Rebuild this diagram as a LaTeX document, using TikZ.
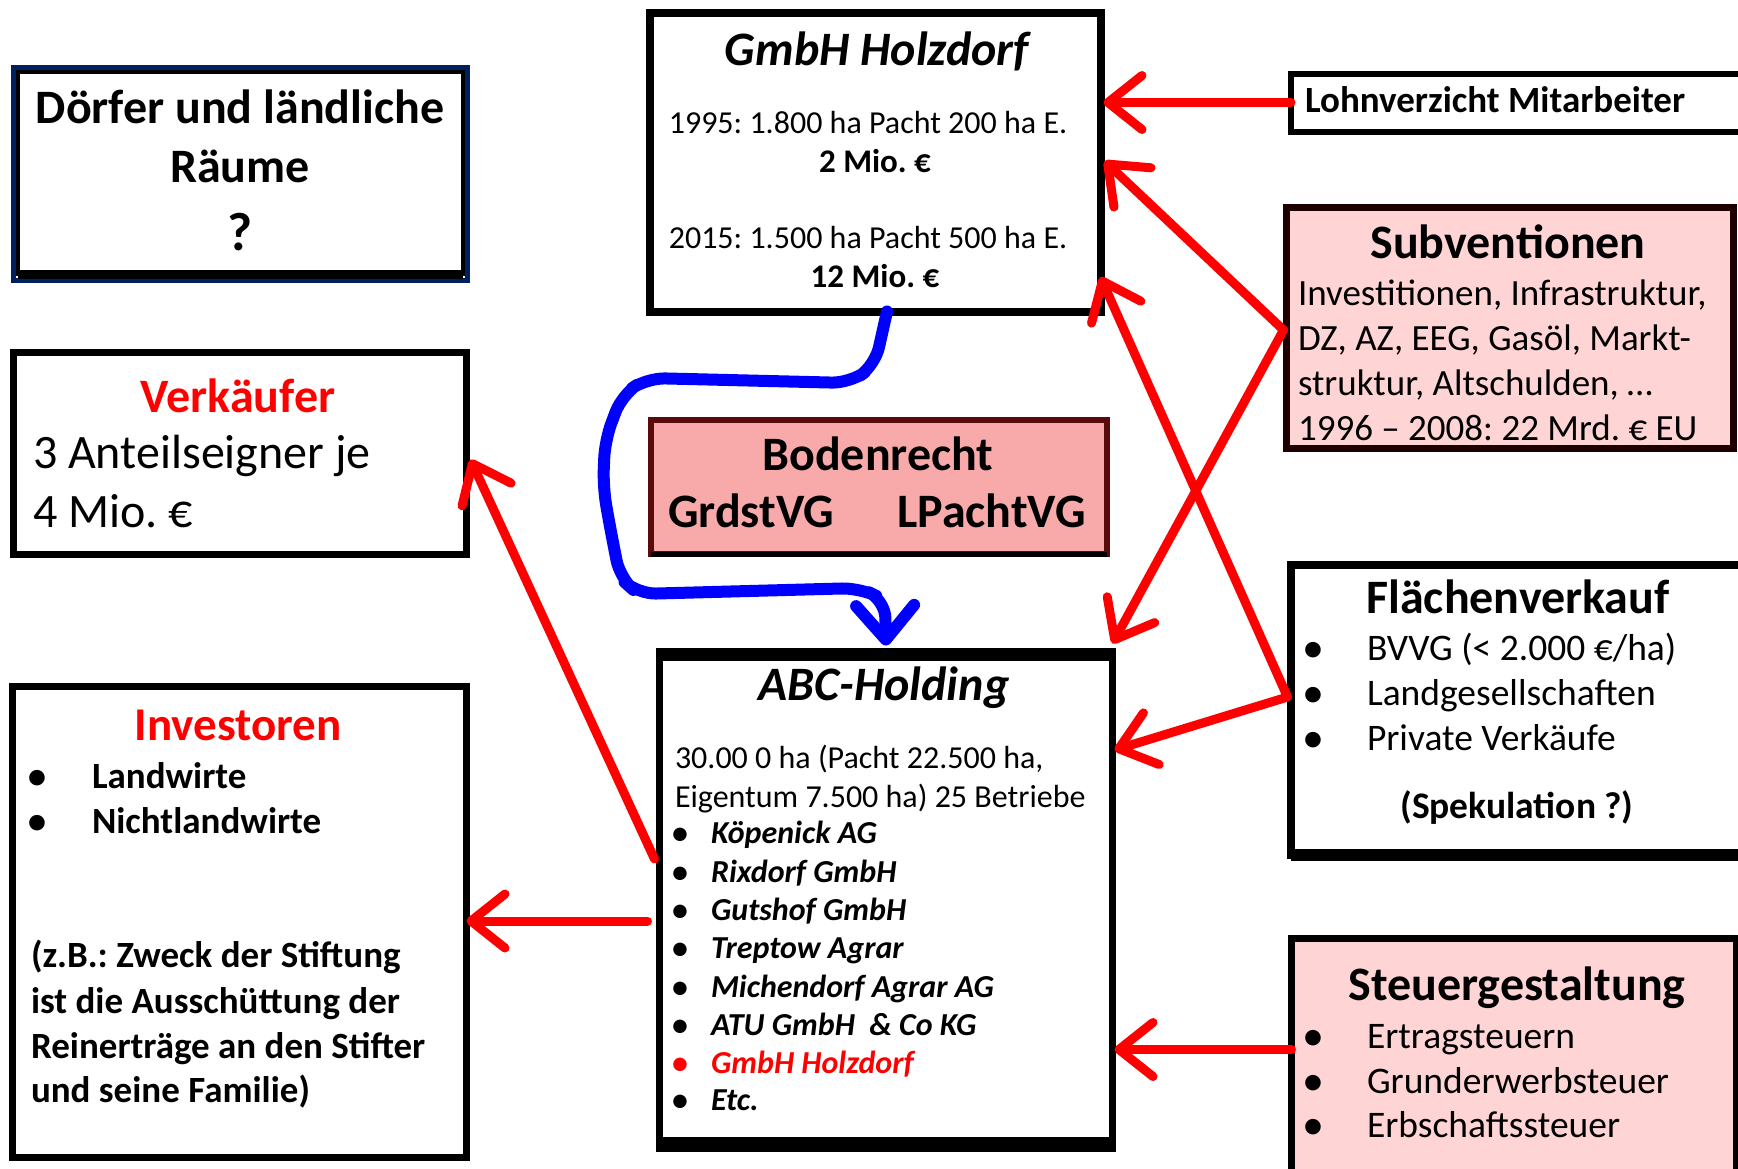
\documentclass[tikz,border=0pt]{standalone}
\usepackage{fontspec}
\setmainfont{Carlito}
\usetikzlibrary{arrows.meta}
\definecolor{navyb}{RGB}{0,32,96}
\definecolor{pinkl}{RGB}{255,212,212}
\definecolor{pinkd}{RGB}{248,170,170}
\definecolor{maroonb}{RGB}{90,10,10}
\definecolor{dredb}{RGB}{30,0,0}
\definecolor{myred}{RGB}{255,0,0}
\definecolor{myblue}{RGB}{0,0,255}
\newcommand\mysz[1]{\fontsize{#1pt}{#1pt}\selectfont}
\frenchspacing
\begin{document}
\begin{tikzpicture}[x=1pt,y=-1pt,
  box/.style={draw, line width=7pt, rectangle, inner sep=0pt, outer sep=0pt, anchor=north west},
  tx/.style={inner sep=0pt, outer sep=0pt},
  bul/.style={inner sep=0pt, outer sep=0pt, anchor=base, font=\mysz{44}},
  redarrow/.style={draw=myred, line width=9pt, line cap=round, line join=round, -{Straight Barb[length=34pt,width=54pt,round]}},
  bluearrow/.style={draw=myblue, line width=12pt, line cap=round, line join=round, rounded corners=18pt, -{Straight Barb[length=34pt,width=58pt,round]}}
]
\useasboundingbox (0,0) rectangle (1738,1168);
\fill[white] (0,0) rectangle (1738,1168);

% boxes
\node[box, line width=4pt, minimum width=445pt, minimum height=202pt] (dorf) at (18,72) {};
\draw[navyb, line width=5pt] ([shift={(-4.5pt,4.5pt)}]dorf.north west) rectangle ([shift={(4.5pt,-6pt)}]dorf.south east);
\draw[line width=9pt] (dorf.south west) -- (dorf.south east);

\node[box, minimum width=453pt, minimum height=202pt] (verk) at (13.5,352.5) {};
\node[box, minimum width=454pt, minimum height=471pt] (inv) at (12.5,686.5) {};
\node[box, line width=8pt, minimum width=451pt, minimum height=299pt] (holz) at (649.5,12.5) {};
\node[box, line width=6pt, minimum width=460pt, minimum height=58pt] (lohn) at (1291,73.5) {};
\node[box, draw=dredb, fill=pinkl, minimum width=447pt, minimum height=241pt] (subv) at (1286.5,207.5) {};
\node[box, draw=maroonb, line width=6pt, fill=pinkd, minimum width=456pt, minimum height=134pt] (boden) at (651,420) {};
\draw[line width=5pt] (boden.south west) -- (boden.south east);
\node[box, minimum width=453pt, minimum height=497pt] (abc) at (659.5,651.5) {};
\draw[line width=13pt] ([yshift=-3pt]abc.north west) -- ([yshift=-3pt]abc.north east);
\draw[line width=15pt] ([yshift=4pt]abc.south west) -- ([yshift=4pt]abc.south east);
\node[box, line width=8pt, minimum width=452pt, minimum height=290pt] (flae) at (1290.5,565) {};
\draw[line width=12pt] (flae.south west) -- (flae.south east);
\node[box, fill=pinkl, minimum width=445pt, minimum height=240pt] (steu) at (1291.5,938.5) {};

% texts: Doerfer
\node[tx, anchor=base] (d1) at (240,123) {\mysz{48}\bfseries Dörfer und ländliche};
\node[tx, anchor=base] (d2) at (240,182) {\mysz{48}\bfseries Räume};
\node[tx, anchor=base] (d3) at (240,250) {\mysz{54}\bfseries ?};

% Verkaeufer
\node[tx, anchor=base] (v1) at (238,412) {\mysz{48}\bfseries\color{myred}Verkäufer};
\node[tx, anchor=base west] (v2) at (33,468) {\mysz{48}3 Anteilseigner je};
\node[tx, anchor=base west] (v3) at (33,527) {\mysz{48}4 Mio. €};

% Investoren
\node[tx, anchor=base] (i1) at (238,740) {\mysz{47}\bfseries\color{myred}Investoren};
\node[bul] (ib1) at (37,790) {•};
\node[tx, anchor=base west] (i2) at (92,788) {\mysz{37}\bfseries Landwirte};
\node[bul] (ib2) at (37,835) {•};
\node[tx, anchor=base west] (i3) at (92,833) {\mysz{37}\bfseries Nichtlandwirte};
\node[tx, anchor=base west] (i4) at (31,967) {\mysz{37}\bfseries (z.B.: Zweck der Stiftung};
\node[tx, anchor=base west] (i5) at (31,1013) {\mysz{37}\bfseries ist die Ausschüttung der};
\node[tx, anchor=base west] (i6) at (31,1058) {\mysz{37}\bfseries Reinerträge an den Stifter};
\node[tx, anchor=base west] (i7) at (31,1102) {\mysz{37}\bfseries und seine Familie)};

% GmbH Holzdorf
\node[tx, anchor=base] (h1) at (877,65) {\mysz{48}\bfseries\itshape GmbH Holzdorf};
\node[tx, anchor=base] (h2) at (868,133) {\mysz{32}1995: 1.800 ha Pacht 200 ha E.};
\node[tx, anchor=base] (h3) at (875,172) {\mysz{33}\bfseries 2 Mio. €};
\node[tx, anchor=base] (h4) at (868,248) {\mysz{32}2015: 1.500 ha Pacht 500 ha E.};
\node[tx, anchor=base] (h5) at (875,287) {\mysz{33}\bfseries 12 Mio. €};

% Lohnverzicht
\node[tx, anchor=base west] (l1) at (1305,112) {\mysz{37}\bfseries Lohnverzicht Mitarbeiter};

% Subventionen
\node[tx, anchor=base] (s1) at (1508,258) {\mysz{48}\bfseries Subventionen};
\node[tx, anchor=base west] (s2) at (1298,305) {\mysz{37}Investitionen, Infrastruktur,};
\node[tx, anchor=base west] (s3) at (1298,350) {\mysz{37}DZ, AZ, EEG, Gasöl, Markt-};
\node[tx, anchor=base west] (s4) at (1298,395) {\mysz{37}struktur, Altschulden, …};
\node[tx, anchor=base west] (s5) at (1298,440) {\mysz{37}1996 – 2008: 22 Mrd. € EU};

% Bodenrecht
\node[tx, anchor=base] (b1) at (878,470) {\mysz{48}\bfseries Bodenrecht};
\node[tx, anchor=base west] (b2) at (668,527) {\mysz{48}\bfseries GrdstVG};
\node[tx, anchor=base east] (b3) at (1086,527) {\mysz{48}\bfseries LPachtVG};

% ABC-Holding
\node[tx, anchor=base] (a0) at (884,700) {\mysz{48}\bfseries\itshape ABC-Holding};
\node[tx, anchor=base west] (a1) at (675,768) {\mysz{32}30.00 0 ha (Pacht 22.500 ha,};
\node[tx, anchor=base west] (a2) at (675,807) {\mysz{32}Eigentum 7.500 ha) 25 Betriebe};
\node[bul, font=\mysz{38}] (ab1) at (680,845) {•};
\node[tx, anchor=base west] (a3) at (711,843) {\mysz{32}\bfseries\itshape Köpenick AG};
\node[bul, font=\mysz{38}] (ab2) at (680,884) {•};
\node[tx, anchor=base west] (a4) at (711,882) {\mysz{32}\bfseries\itshape Rixdorf GmbH};
\node[bul, font=\mysz{38}] (ab3) at (680,922) {•};
\node[tx, anchor=base west] (a5) at (711,920) {\mysz{32}\bfseries\itshape Gutshof GmbH};
\node[bul, font=\mysz{38}] (ab4) at (680,960) {•};
\node[tx, anchor=base west] (a6) at (711,958) {\mysz{32}\bfseries\itshape Treptow Agrar};
\node[bul, font=\mysz{38}] (ab5) at (680,999) {•};
\node[tx, anchor=base west] (a7) at (711,997) {\mysz{32}\bfseries\itshape Michendorf Agrar AG};
\node[bul, font=\mysz{38}] (ab6) at (680,1037) {•};
\node[tx, anchor=base west] (a8) at (711,1035) {\mysz{32}\bfseries\itshape ATU GmbH\ \ \& Co KG};
\node[bul, font=\mysz{38}, text=myred] (ab7) at (680,1075) {•};
\node[tx, anchor=base west] (a9) at (711,1073) {\mysz{32}\bfseries\itshape\color{myred}GmbH Holzdorf};
\node[bul, font=\mysz{38}] (ab8) at (680,1112) {•};
\node[tx, anchor=base west] (a10) at (711,1110) {\mysz{32}\bfseries\itshape Etc.};

% Flaechenverkauf
\node[tx, anchor=base] (f1) at (1518,613) {\mysz{48}\bfseries Flächenverkauf};
\node[bul] (fb1) at (1313,662) {•};
\node[tx, anchor=base west] (f2) at (1367,660) {\mysz{37.5}BVVG (< 2.000 €/ha)};
\node[bul] (fb2) at (1313,707) {•};
\node[tx, anchor=base west] (f3) at (1367,705) {\mysz{37.5}Landgesellschaften};
\node[bul] (fb3) at (1313,752) {•};
\node[tx, anchor=base west] (f4) at (1367,750) {\mysz{37.5}Private Verkäufe};
\node[tx, anchor=base] (f5) at (1517,818) {\mysz{37.5}\bfseries (Spekulation ?)};

% Steuergestaltung
\node[tx, anchor=base] (st1) at (1517,1000) {\mysz{48}\bfseries Steuergestaltung};
\node[bul] (stb1) at (1313,1050) {•};
\node[tx, anchor=base west] (st2) at (1367,1048) {\mysz{37.5}Ertragsteuern};
\node[bul] (stb2) at (1313,1095) {•};
\node[tx, anchor=base west] (st3) at (1367,1093) {\mysz{37.5}Grunderwerbsteuer};
\node[bul] (stb3) at (1313,1139) {•};
\node[tx, anchor=base west] (st4) at (1367,1137) {\mysz{37.5}Erbschaftssteuer};

% connector points
\coordinate (subvJ) at ([shift={(-3pt,-2pt)}]subv.west);
\coordinate (flaeJ) at ([shift={(-3pt,13pt)}]flae.west);
\coordinate (holzA) at ([shift={(4pt,1pt)}]holz.east);
\coordinate (holzB) at ([shift={(0pt,-115pt)}]holz.east);
\coordinate (abcA) at ([shift={(0pt,8pt)}]abc.north east);
\coordinate (abcB) at ([shift={(2pt,150pt)}]abc.east);
\coordinate (steuA) at ([yshift=9pt]steu.west);
\coordinate (abcC) at ([xshift=2pt]abc.east |- steuA);
\coordinate (lohnA) at (lohn.west);
\coordinate (holzL) at ([xshift=3pt]holz.east |- lohnA);
\coordinate (abcL1) at ([shift={(-5pt,41pt)}]abc.west);
\coordinate (verkA) at ([shift={(4pt,-6pt)}]verk.east);
\coordinate (abcL2) at ([shift={(-12pt,-21pt)}]abc.west);
\coordinate (invA) at (inv.east |- abcL2);
\coordinate (holzS) at ([xshift=12pt]holz.south);
\coordinate (abcN) at ([yshift=6pt]abc.north);

% red arrows
\draw[redarrow] (lohnA) -- (holzL);
\draw[redarrow] (subvJ) -- (holzA);
\draw[redarrow] (subvJ) -- (abcA);
\draw[redarrow] (flaeJ) -- (holzB);
\draw[redarrow] (flaeJ) -- (abcB);
\draw[redarrow] (steuA) -- (abcC);
\draw[redarrow] (abcL1) -- (verkA);
\draw[redarrow] (abcL2) -- (invA);

% blue arrow
\draw[bluearrow] (holzS) -- (875,365) -- (850,383) -- (647,378) -- (622,395) -- (605,440) -- (603,487) -- (610,527) -- (620,578) -- (638,594) -- (860,588) -- (885,600) -- (abcN);
\end{tikzpicture}
\end{document}
